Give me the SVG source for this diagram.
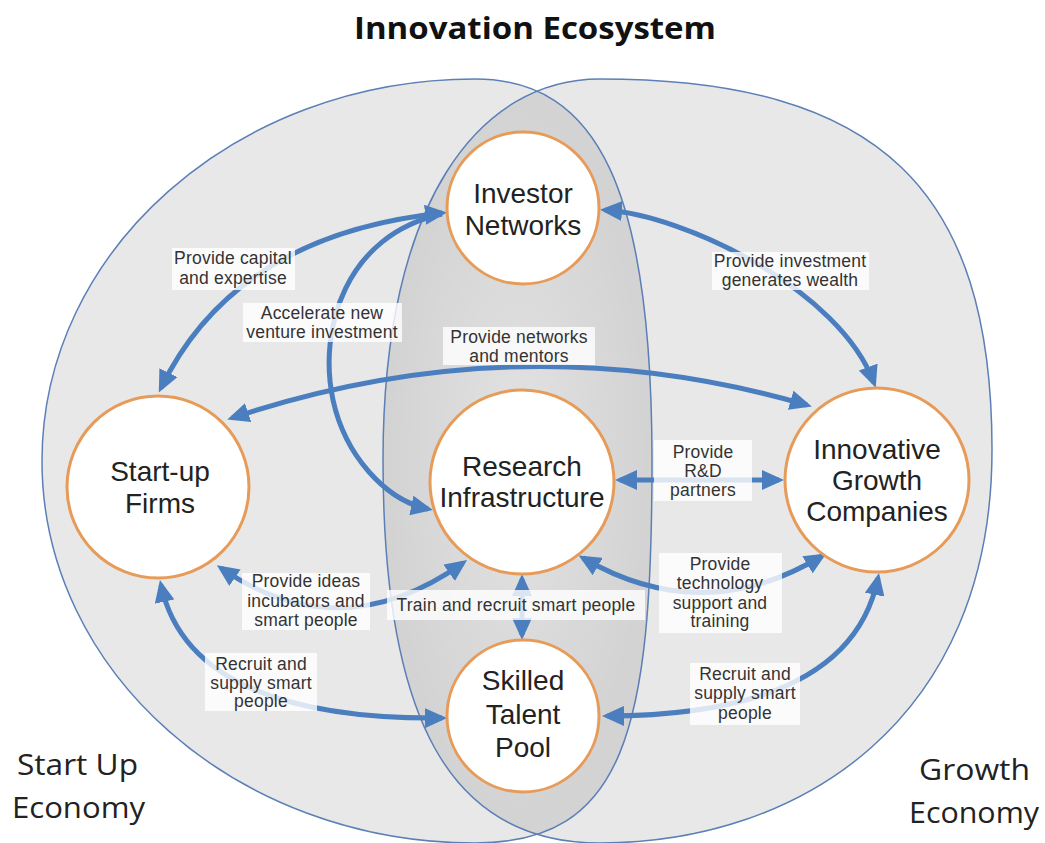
<svg xmlns="http://www.w3.org/2000/svg" width="1045" height="843" viewBox="0 0 1045 843">
<defs>
<marker id="ah" viewBox="0 0 22 20" refX="17" refY="10" markerWidth="22" markerHeight="20" markerUnits="userSpaceOnUse" orient="auto-start-reverse"><path d="M0,0 L22,10 L0,20 z" fill="#4a7ebf"/></marker>
<radialGradient id="glow" cx="0.5" cy="0.5" r="0.5"><stop offset="0" stop-color="#fff" stop-opacity="0.35"/><stop offset="1" stop-color="#fff" stop-opacity="0"/></radialGradient>
</defs>
<style>
.zone{fill:#000;fill-opacity:0.09;stroke:none}
.zline{fill:none;stroke:#5b7fb6;stroke-width:1.5}
.conn{fill:none;stroke:#4a7ebf;stroke-width:5;marker-start:url(#ah);marker-end:url(#ah)}
.conn1{fill:none;stroke:#4a7ebf;stroke-width:5;marker-end:url(#ah)}
.node circle{fill:#fff;stroke:#e79b58;stroke-width:3}
.nt{font-family:"Liberation Sans",Arial,sans-serif;font-size:28px;fill:#222;text-anchor:middle}
.lb rect{fill:#fff;fill-opacity:0.8}
.lt{font-family:"Liberation Sans",Arial,sans-serif;font-size:17.5px;fill:#333;text-anchor:middle;letter-spacing:0.2px}
.big{font-family:"Open Sans","Liberation Sans",sans-serif;font-size:29px;fill:#222}
</style>
<rect width="1045" height="843" fill="#fff"/>
<text x="535" y="39" text-anchor="middle" font-family="'Open Sans','Liberation Sans',sans-serif" font-size="30" font-weight="bold" fill="#111" textLength="362" lengthAdjust="spacingAndGlyphs">Innovation Ecosystem</text>

<g id="zones">
<path id="zone-left" class="zone" d="M42 461 C42 250 236 79 475 79 C598 79 652 190 652 461 C652 730 625 843 475 843 C236 843 42 672 42 461 Z"/>
<path id="zone-right" class="zone" d="M600 79 C880 79 992 190 992 450 C992 720 800 843 600 843 C450 843 383 720 383 460 C383 200 480 79 600 79 Z"/>
<ellipse cx="518" cy="460" rx="130" ry="360" fill="url(#glow)"/>
<path class="zline" d="M42 461 C42 250 236 79 475 79 C598 79 652 190 652 461 C652 730 625 843 475 843 C236 843 42 672 42 461 Z"/>
<path class="zline" d="M600 79 C880 79 992 190 992 450 C992 720 800 843 600 843 C450 843 383 720 383 460 C383 200 480 79 600 79 Z"/>
</g>

<g id="connectors">
<path class="conn" d="M442 213 Q235 235 161 388"/>
<path class="conn1" d="M442 214 C345 235 318 330 333 400 C345 455 385 500 428 509"/>
<path class="conn" d="M605 210 C685 215 840 290 874 383"/>
<path class="conn" d="M232 418 Q520 322 807 405"/>
<path class="conn" d="M620 480 L779 480"/>
<path class="conn" d="M583 558 Q703 628 822 556"/>
<path class="conn" d="M221 568 Q340 650 463 563"/>
<path class="conn" d="M522 579 L522 635"/>
<path class="conn" d="M161 585 Q190 720 442 718"/>
<path class="conn" d="M878 578 Q850 715 607 716"/>
</g>

<g id="labels">
<g class="lb" id="lbl-capital"><rect x="172" y="248" width="123" height="42"/><text class="lt" x="233" y="264">Provide capital</text><text class="lt" x="233" y="284">and expertise</text></g>
<g class="lb" id="lbl-accelerate"><rect x="243" y="303" width="159" height="39"/><text class="lt" x="322" y="319">Accelerate new</text><text class="lt" x="322" y="338">venture investment</text></g>
<g class="lb" id="lbl-networks"><rect x="443" y="327" width="152" height="38"/><text class="lt" x="519" y="343">Provide networks</text><text class="lt" x="519" y="362">and mentors</text></g>
<g class="lb" id="lbl-investment"><rect x="712" y="252" width="157" height="38"/><text class="lt" x="790" y="267">Provide investment</text><text class="lt" x="790" y="286">generates wealth</text></g>
<g class="lb" id="lbl-rd"><rect x="654" y="440" width="98" height="61"/><text class="lt" x="703" y="458">Provide</text><text class="lt" x="703" y="477">R&amp;D</text><text class="lt" x="703" y="496">partners</text></g>
<g class="lb" id="lbl-ideas"><rect x="242" y="573" width="128" height="57"/><text class="lt" x="306" y="587">Provide ideas</text><text class="lt" x="306" y="607">incubators  and</text><text class="lt" x="306" y="626">smart people</text></g>
<g class="lb" id="lbl-train"><rect x="387" y="590" width="258" height="30"/><text class="lt" x="516" y="611">Train and recruit smart people</text></g>
<g class="lb" id="lbl-tech"><rect x="659" y="553" width="123" height="80"/><text class="lt" x="720" y="570">Provide</text><text class="lt" x="720" y="589">technology</text><text class="lt" x="720" y="609">support and</text><text class="lt" x="720" y="627">training</text></g>
<g class="lb" id="lbl-recruit-left"><rect x="205" y="653" width="112" height="58"/><text class="lt" x="261" y="670">Recruit and</text><text class="lt" x="261" y="689">supply smart</text><text class="lt" x="261" y="707">people</text></g>
<g class="lb" id="lbl-recruit-right"><rect x="690" y="663" width="110" height="62"/><text class="lt" x="745" y="680">Recruit and</text><text class="lt" x="745" y="699">supply smart</text><text class="lt" x="745" y="719">people</text></g>
</g>

<g id="node-investor" class="node"><circle cx="523" cy="208" r="76"/><text class="nt" x="523" y="203">Investor</text><text class="nt" x="523" y="235">Networks</text></g>
<g id="node-startup" class="node"><circle cx="158" cy="487" r="91"/><text class="nt" x="160" y="481">Start-up</text><text class="nt" x="160" y="513">Firms</text></g>
<g id="node-research" class="node"><circle cx="522" cy="482" r="92"/><text class="nt" x="522" y="476">Research</text><text class="nt" x="522" y="507">Infrastructure</text></g>
<g id="node-innovative" class="node"><circle cx="877" cy="480" r="92"/><text class="nt" x="877" y="459">Innovative</text><text class="nt" x="877" y="490">Growth</text><text class="nt" x="877" y="521">Companies</text></g>
<g id="node-skilled" class="node"><circle cx="523" cy="716" r="76"/><text class="nt" x="523" y="690">Skilled</text><text class="nt" x="523" y="724">Talent</text><text class="nt" x="523" y="757">Pool</text></g>

<g id="economy-labels">
<text class="big" x="17" y="775" textLength="121" lengthAdjust="spacingAndGlyphs">Start Up</text>
<text class="big" x="12" y="818" textLength="133" lengthAdjust="spacingAndGlyphs">Economy</text>
<text class="big" x="919" y="780" textLength="111" lengthAdjust="spacingAndGlyphs">Growth</text>
<text class="big" x="909" y="823" textLength="130" lengthAdjust="spacingAndGlyphs">Economy</text>
</g>
</svg>
